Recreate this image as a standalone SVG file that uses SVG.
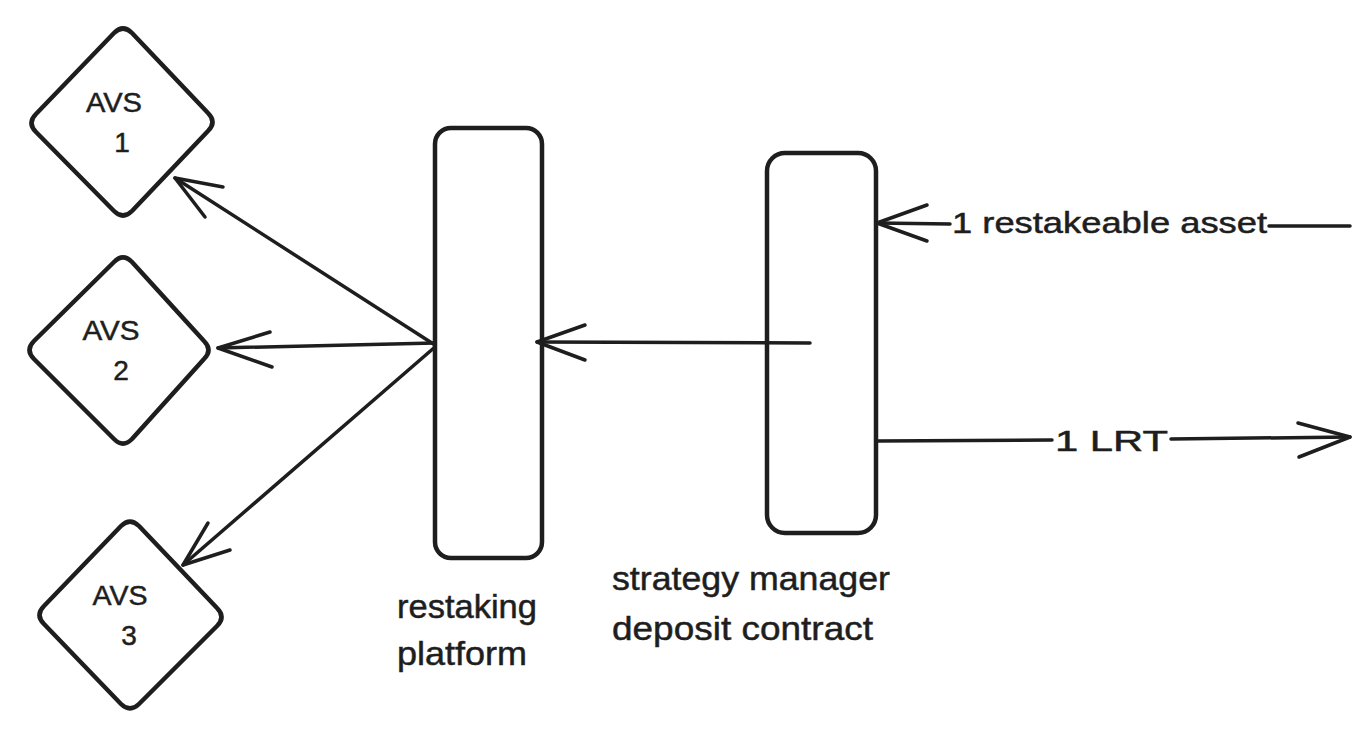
<svg xmlns="http://www.w3.org/2000/svg" width="1369" height="738" viewBox="0 0 1369 738">
<style>
.shape{fill:#fff;stroke:#1e1e1e;stroke-width:4.5;stroke-linejoin:round;stroke-linecap:round}
.edge{fill:none;stroke:#1e1e1e;stroke-width:3.5;stroke-linecap:round;stroke-linejoin:round}
text{font-family:"Liberation Sans","DejaVu Sans",sans-serif;fill:#1e1e1e;stroke:#1e1e1e;stroke-width:0.5}
.avs{font-size:28px;text-anchor:middle}
.lbl{font-size:34px}
.elbl{font-size:30px}
</style>
<rect width="1369" height="738" fill="#fff"/>
<g id="avs1">
  <path class="shape" d="M114,33 Q123,24 132,33 L208,113 Q217,122 208,131 L132,211 Q123,220 114,211 L36,132 Q27,123 36,114 Z"/>
  <text class="avs" x="114" y="112" textLength="56" lengthAdjust="spacingAndGlyphs">AVS</text>
  <text class="avs" x="122" y="152">1</text>
</g>
<g id="avs2">
  <path class="shape" d="M114,262 Q123,253 132,262 L204,341 Q213,350 204,359 L132,439 Q123,448 114,439 L34,359 Q25,350 34,341 Z"/>
  <text class="avs" x="111" y="340" textLength="57" lengthAdjust="spacingAndGlyphs">AVS</text>
  <text class="avs" x="121" y="380">2</text>
</g>
<g id="avs3">
  <path class="shape" d="M121,526 Q130,517 139,526 L217,608 Q226,617 217,626 L139,704 Q130,713 121,704 L44,624 Q35,615 44,606 Z"/>
  <text class="avs" x="120" y="605" textLength="55" lengthAdjust="spacingAndGlyphs">AVS</text>
  <text class="avs" x="129" y="645">3</text>
</g>
<g id="restaking-platform">
  <rect class="shape" x="435" y="128" width="107" height="430" rx="16"/>
  <text class="lbl" x="397" y="618" textLength="140" lengthAdjust="spacingAndGlyphs">restaking</text>
  <text class="lbl" x="397" y="665" textLength="130" lengthAdjust="spacingAndGlyphs">platform</text>
</g>
<g id="strategy-manager">
  <rect class="shape" x="767" y="153" width="109" height="380" rx="18"/>
  <text class="lbl" x="612" y="590" textLength="278" lengthAdjust="spacingAndGlyphs">strategy manager</text>
  <text class="lbl" x="612" y="640" textLength="261" lengthAdjust="spacingAndGlyphs">deposit contract</text>
</g>
<g id="connectors">
  <path class="edge" d="M810,343 L537,342"/>
  <path class="edge" d="M585,325 L537,342 L585,360"/>
  <path class="edge" d="M435,345 L175,178"/>
  <path class="edge" d="M223,187 L175,178 L205,217"/>
  <path class="edge" d="M435,343 L218,348"/>
  <path class="edge" d="M270,332 L218,348 L272,367"/>
  <path class="edge" d="M435,347 L183,565"/>
  <path class="edge" d="M208,523 L183,565 L230,550"/>
  <path class="edge" d="M1350,226 L1269,226 M950,224 L877,223"/>
  <path class="edge" d="M927,205 L877,223 L927,241"/>
  <text class="elbl" x="952" y="233" textLength="315" lengthAdjust="spacingAndGlyphs">1 restakeable asset</text>
  <path class="edge" d="M877,441 L1052,440 M1171,439 L1350,437"/>
  <path class="edge" d="M1298,423 L1350,437 L1299,457"/>
  <text class="elbl" x="1055" y="451" font-size="32" textLength="113" lengthAdjust="spacingAndGlyphs">1 LRT</text>
</g>
</svg>
